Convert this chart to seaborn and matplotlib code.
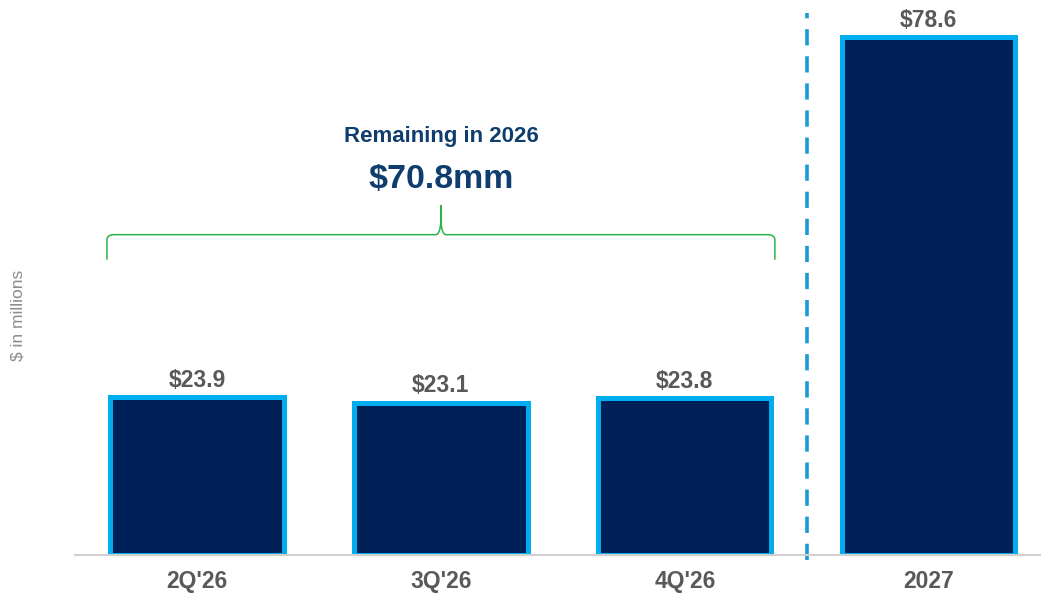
import matplotlib
matplotlib.use('Agg')
import matplotlib.pyplot as plt
import seaborn as sns
import pandas as pd
from matplotlib.path import Path
from matplotlib.patches import PathPatch

# Data
periods = ["2Q'26", "3Q'26", "4Q'26", "2027"]
amounts = [23.9, 23.1, 23.8, 78.6]
bar_labels = ['$23.9', '$23.1', '$23.8', '$78.6']
brace_title = 'Remaining in 2026'
brace_total = '$70.8mm'

df = pd.DataFrame({'period': periods, 'amount': amounts})

sns.set_style('white')
plt.rcParams['font.family'] = ['Liberation Sans', 'DejaVu Sans']

fig = plt.figure(figsize=(10.41, 5.97), dpi=100)
ax = fig.add_axes([75 / 1041, 42 / 597, 966 / 1041, 555 / 597])

sns.barplot(data=df, x='period', y='amount', color='#002157', saturation=1,
            edgecolor='#00aeef', linewidth=3.6, width=0.71, ax=ax)

ax.set_xlim(-0.5, 3.46)
ax.set_ylim(0, 84.2)

# value labels
for i, (v, lab) in enumerate(zip(amounts, bar_labels)):
    ax.text(i, v + 0.8, lab, ha='center', va='bottom', fontsize=16.5,
            fontweight='bold', color='#595959')

# dashed separator
ax.plot([2.5, 2.5], [-0.8, 82.3], color='#1a9ad6', lw=2.6,
        linestyle=(0, (4.5, 3.0)), clip_on=False)

# curly brace over the 2026 quarters
x0, x1, xm = -0.369, 2.369, 1.0
yb, ye, yt = 48.6, 44.8, 53.1
r = 0.03
verts = [(x0, ye), (x0, yb - 0.8), (x0, yb), (x0 + r, yb),
         (xm - 0.02, yb), (xm - 0.004, yb), (xm, yt - 2.5), (xm, yt),
         (xm, yt - 2.5), (xm + 0.004, yb), (xm + 0.02, yb),
         (x1 - r, yb), (x1, yb), (x1, yb - 0.8), (x1, ye)]
codes = [Path.MOVETO, Path.LINETO, Path.CURVE3, Path.CURVE3,
         Path.LINETO, Path.CURVE3, Path.CURVE3, Path.LINETO,
         Path.LINETO, Path.CURVE3, Path.CURVE3,
         Path.LINETO, Path.CURVE3, Path.CURVE3, Path.LINETO]
ax.add_patch(PathPatch(Path(verts, codes), fill=False, edgecolor='#2bb34a', lw=1.1))

ax.text(xm, 63.5, brace_title, ha='center', va='center', fontsize=16,
        fontweight='bold', color='#0e3d6e')
ax.text(xm, 56.9, brace_total, ha='center', va='center', fontsize=24.5,
        fontweight='bold', color='#0e3d6e')

# axes styling
for s in ['top', 'right', 'left']:
    ax.spines[s].set_visible(False)
ax.spines['bottom'].set_color('#d0d0d0')
ax.spines['bottom'].set_linewidth(1.5)
ax.set_yticks([])
ax.set_xlabel('')
ax.set_ylabel('')
ax.tick_params(axis='x', length=0, pad=11)
for t in ax.get_xticklabels():
    t.set_fontsize(16.5)
    t.set_fontweight('bold')
    t.set_color('#595959')

fig.text(18 / 1041, 1 - 315 / 597, '$ in millions', rotation=90, ha='center',
         va='center', fontsize=12.5, color='#8c8c8c')

fig.savefig('out.png', dpi=100)
